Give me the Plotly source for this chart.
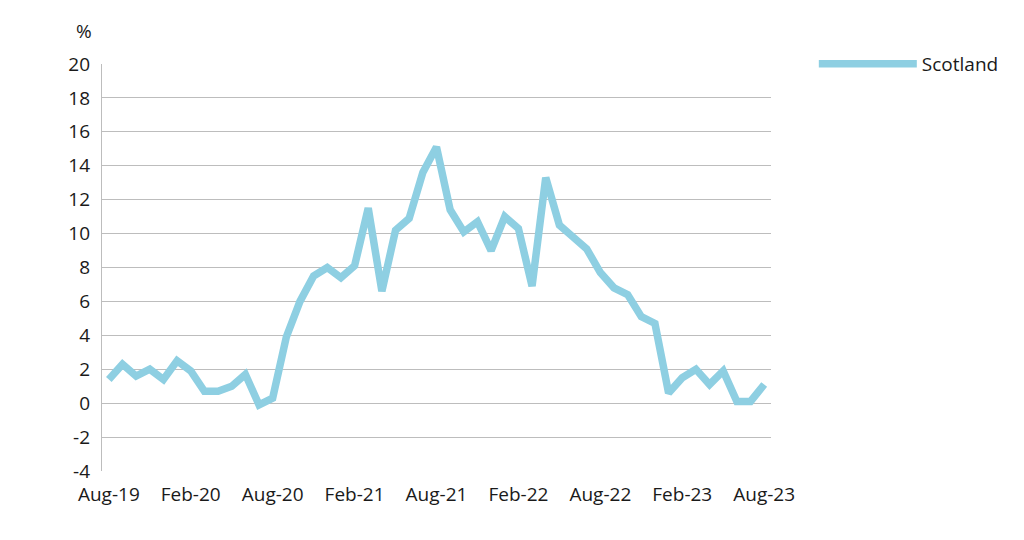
import plotly.graph_objects as go

month_names = ["Jan", "Feb", "Mar", "Apr", "May", "Jun", "Jul", "Aug", "Sep", "Oct", "Nov", "Dec"]
months = []
for k in range(49):
    m = (7 + k) % 12
    y = 19 + (7 + k) // 12
    months.append(f"{month_names[m]}-{y}")

scotland = [1.4, 2.3, 1.6, 2.0, 1.4, 2.5, 1.9, 0.7, 0.7, 1.0, 1.7, -0.1, 0.3,
            3.9, 6.0, 7.5, 8.0, 7.4, 8.1, 11.5, 6.6, 10.2, 10.9, 13.6, 15.1,
            11.4, 10.1, 10.7, 9.0, 11.0, 10.3, 6.9, 13.3, 10.5, 9.8, 9.1, 7.7,
            6.8, 6.4, 5.1, 4.7, 0.6, 1.5, 2.0, 1.1, 1.9, 0.1, 0.1, 1.1]

tick_labels = [months[i] for i in range(0, 49, 6)]
y_ticks = list(range(-4, 21, 2))
y_tick_text = [str(v) for v in y_ticks]

font_family = "Open Sans"
fs = 19

fig = go.Figure()
fig.add_trace(go.Scatter(
    x=months, y=scotland, mode="lines", name="Scotland",
    line=dict(color="#8ecfe2", width=7.5, shape="linear"),
))

fig.update_layout(
    width=1024, height=540,
    margin=dict(l=94, r=261, t=56, b=77, autoexpand=False),
    paper_bgcolor="white", plot_bgcolor="white",
    font=dict(family=font_family, size=fs, color="#1a1a1a"),
    showlegend=True,
    legend=dict(x=1.064, y=1.0, xanchor="left", yanchor="middle",
                itemwidth=98, font=dict(size=fs), bgcolor="rgba(0,0,0,0)"),
    xaxis=dict(
        type="category", range=[-0.5, 48.5], automargin=False,
        tickmode="array", tickvals=tick_labels, ticktext=tick_labels,
        showgrid=False, showline=False, zeroline=False, ticks="",
        tickfont=dict(size=fs), ticklabelstandoff=10,
    ),
    yaxis=dict(
        range=[-4, 20], tickmode="array", tickvals=y_ticks, ticktext=y_tick_text,
        automargin=False,
        showgrid=True, gridcolor="#bdbdbd", gridwidth=1.4,
        zeroline=False, showline=True, linecolor="#bdbdbd", linewidth=1.4,
        ticks="", tickfont=dict(size=fs), ticklabelstandoff=7,
    ),
    annotations=[dict(text="%", xref="paper", yref="paper", x=-0.027, y=1.045,
                      xanchor="center", yanchor="bottom", showarrow=False,
                      font=dict(size=fs))],
)

fig.write_html("out.html")
